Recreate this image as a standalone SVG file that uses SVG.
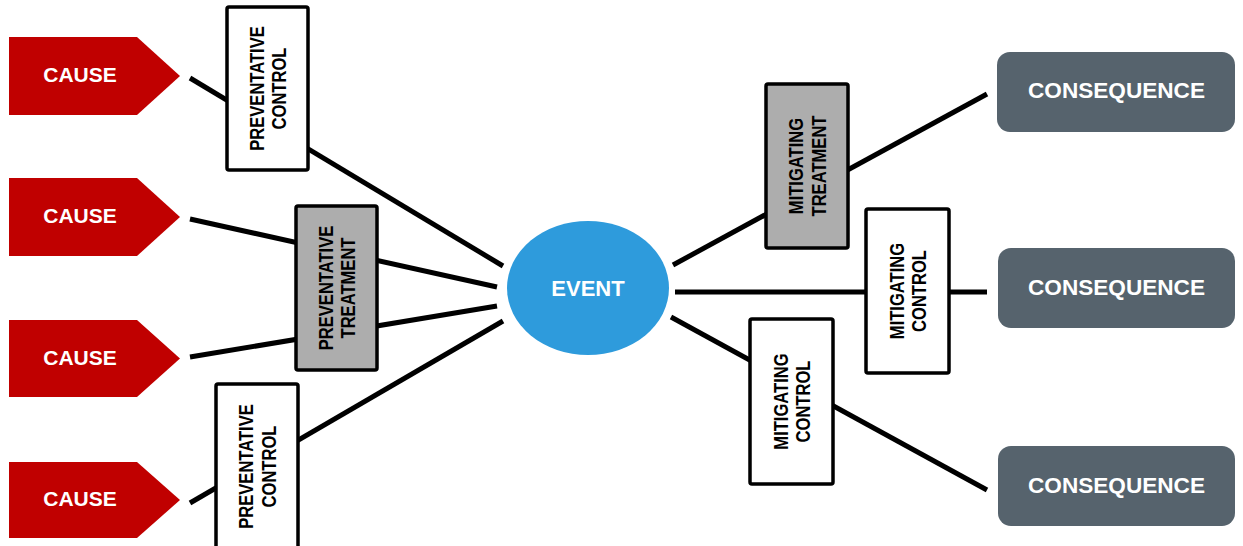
<svg xmlns="http://www.w3.org/2000/svg" width="1243" height="546" viewBox="0 0 1243 546">
<style>
.cause{fill:#C00000}
.cons{fill:#56636D}
.wt{fill:#FFFFFF;font-family:"Liberation Sans",Arial,sans-serif;font-weight:bold;text-anchor:middle}
.bx{stroke:#000;stroke-width:3.5}
.white{fill:#FFFFFF}
.gray{fill:#ADADAD}
.bt{fill:#000;font-family:"Liberation Sans",Arial,sans-serif;font-weight:bold;font-size:21px;text-anchor:middle}
.ln{stroke:#000;stroke-width:5;fill:none}
</style>
<rect width="1243" height="546" fill="#FFFFFF"/>
<g id="connectors">
<line class="ln" x1="190" y1="78" x2="503" y2="266"/>
<line class="ln" x1="190" y1="219" x2="497" y2="287"/>
<line class="ln" x1="190" y1="357" x2="497" y2="306"/>
<line class="ln" x1="190" y1="503" x2="503" y2="321"/>
<line class="ln" x1="673" y1="265" x2="987" y2="94"/>
<line class="ln" x1="675" y1="292" x2="987" y2="292"/>
<line class="ln" x1="671" y1="317" x2="987" y2="490"/>
</g>
<g id="cause1"><polygon class="cause" points="9,37 137,37 180,76 137,115 9,115"/><text class="wt" x="80" y="82" font-size="21">CAUSE</text></g>
<g id="cause2"><polygon class="cause" points="9,178 137,178 180,217 137,256 9,256"/><text class="wt" x="80" y="223" font-size="21">CAUSE</text></g>
<g id="cause3"><polygon class="cause" points="9,320 137,320 180,358.5 137,397 9,397"/><text class="wt" x="80" y="365" font-size="21">CAUSE</text></g>
<g id="cause4"><polygon class="cause" points="9,462 137,462 180,500 137,538 9,538"/><text class="wt" x="80" y="506" font-size="21">CAUSE</text></g>
<g id="pc1"><rect class="bx white" x="227" y="7" width="81" height="163" rx="2"/><text class="bt" transform="translate(267.5,88.5) rotate(-90) scale(0.79,1)"><tspan x="0" y="-4">PREVENTATIVE</tspan><tspan x="0" y="19">CONTROL</tspan></text></g>
<g id="pt"><rect class="bx gray" x="296" y="206" width="81" height="164" rx="2"/><text class="bt" transform="translate(336.5,288) rotate(-90) scale(0.79,1)"><tspan x="0" y="-4">PREVENTATIVE</tspan><tspan x="0" y="19">TREATMENT</tspan></text></g>
<g id="pc2"><rect class="bx white" x="216" y="384" width="82" height="170" rx="2"/><text class="bt" transform="translate(257,466.5) rotate(-90) scale(0.79,1)"><tspan x="0" y="-4">PREVENTATIVE</tspan><tspan x="0" y="19">CONTROL</tspan></text></g>
<g id="event"><ellipse cx="588" cy="288" rx="81" ry="67" fill="#2E9BDC"/><text class="wt" x="588" y="295.5" font-size="22">EVENT</text></g>
<g id="mt"><rect class="bx gray" x="766" y="84" width="82" height="164" rx="2"/><text class="bt" transform="translate(807,166) rotate(-90) scale(0.79,1)"><tspan x="0" y="-4">MITIGATING</tspan><tspan x="0" y="19">TREATMENT</tspan></text></g>
<g id="mc1"><rect class="bx white" x="866" y="209" width="83" height="164" rx="2"/><text class="bt" transform="translate(907.5,291) rotate(-90) scale(0.79,1)"><tspan x="0" y="-4">MITIGATING</tspan><tspan x="0" y="19">CONTROL</tspan></text></g>
<g id="mc2"><rect class="bx white" x="750" y="319" width="83" height="165" rx="2"/><text class="bt" transform="translate(791.5,401.5) rotate(-90) scale(0.79,1)"><tspan x="0" y="-4">MITIGATING</tspan><tspan x="0" y="19">CONTROL</tspan></text></g>
<g id="cons1"><rect class="cons" x="997" y="52" width="238" height="80" rx="13"/><text class="wt" x="1116.5" y="97.5" font-size="22.6">CONSEQUENCE</text></g>
<g id="cons2"><rect class="cons" x="998" y="248" width="237" height="80" rx="13"/><text class="wt" x="1116.5" y="295" font-size="22.6">CONSEQUENCE</text></g>
<g id="cons3"><rect class="cons" x="998" y="446" width="237" height="80" rx="13"/><text class="wt" x="1116.5" y="493" font-size="22.6">CONSEQUENCE</text></g>
</svg>
